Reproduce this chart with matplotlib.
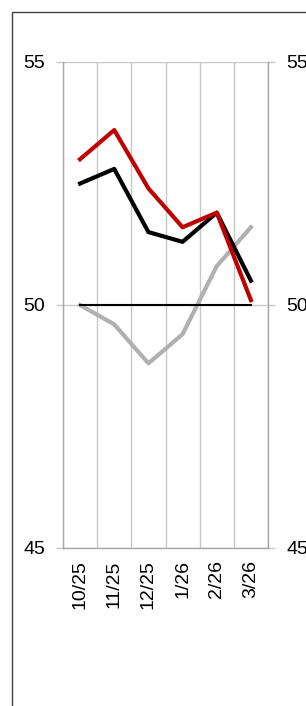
import matplotlib
matplotlib.use("Agg")
import matplotlib.pyplot as plt
from matplotlib.patches import Rectangle

plt.rcParams["font.family"] = ["Liberation Sans", "DejaVu Sans"]

months = ["10/25", "11/25", "12/25", "1/26", "2/26", "3/26"]
red_series = [53.0, 53.6, 52.4, 51.6, 51.9, 50.1]
black_series = [52.5, 52.8, 51.5, 51.3, 51.9, 50.5]
gray_series = [50.0, 49.6, 48.8, 49.4, 50.8, 51.6]
baseline = [50, 50, 50, 50, 50, 50]
y_ticks = [45, 50, 55]

GRID = "#c8c8c8"
SPINE = "#a6a6a6"

fig = plt.figure(figsize=(3.06, 7.06), dpi=100, facecolor="white")
ax = fig.add_axes([63 / 306, 158 / 706, 205 / 306, 486 / 706])

x = list(range(len(months)))
ax.plot(x, gray_series, color="#b0b0b0", linewidth=3, zorder=3)
ax.plot(x, baseline, color="black", linewidth=1.5, zorder=4)
ax.plot(x, black_series, color="black", linewidth=3, zorder=5)
ax.plot(x, red_series, color="#c00000", linewidth=3, zorder=6)

ax.set_xlim(-0.5, len(months) - 0.5)
ax.set_ylim(45, 55)
ax.set_yticks(y_ticks)
ax.set_yticklabels([str(v) for v in y_ticks])
ax.set_xticks(x)
ax.set_xticklabels(months, rotation=90)
ax.set_xticks([i - 0.5 for i in range(len(months) + 1)], minor=True)

ax.grid(True, which="minor", axis="x", color=GRID, linewidth=1)
ax.grid(True, which="major", axis="y", color=GRID, linewidth=1)
ax.set_axisbelow(True)

ax.tick_params(axis="y", which="major", left=True, right=True, labelright=True,
               length=5, width=1, color=GRID, pad=8, labelsize=14, labelcolor="black")
ax.tick_params(axis="x", which="both", length=0, pad=9, labelsize=14)

for side in ["left", "right", "bottom"]:
    ax.spines[side].set_color(SPINE)
    ax.spines[side].set_linewidth(1)
ax.spines["top"].set_visible(False)

# outer chart frame (cut off at right and bottom)
fig.add_artist(Rectangle((11.5 / 306, -0.1), 1.2, 694.5 / 706 + 0.1,
                         transform=fig.transFigure, facecolor="none",
                         edgecolor="#404040", linewidth=1))

fig.savefig("out.png", dpi=100, facecolor="white")
